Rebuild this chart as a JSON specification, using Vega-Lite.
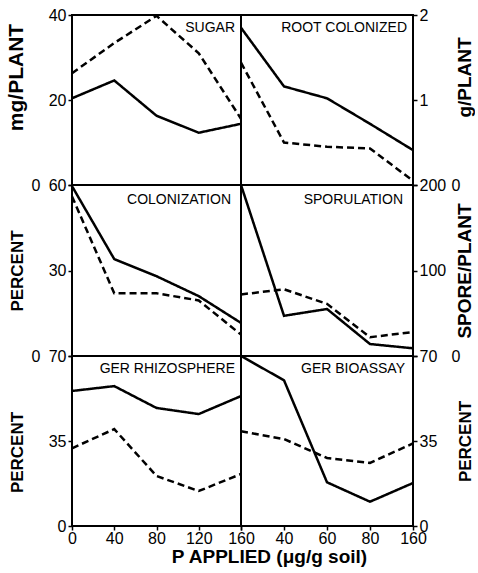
{
  "$schema": "https://vega.github.io/schema/vega-lite/v6.json",
  "background": "white",
  "padding": {"left": 4, "top": 6, "right": 0, "bottom": 4},
  "bounds": "flush",
  "spacing": 0,
  "columns": 2,
  "datasets": {
    "curves": [
      {"panel": "SUGAR", "P": 0, "series": "solid", "value": 20.4},
      {"panel": "SUGAR", "P": 40, "series": "solid", "value": 24.6},
      {"panel": "SUGAR", "P": 80, "series": "solid", "value": 16.3},
      {"panel": "SUGAR", "P": 120, "series": "solid", "value": 12.3},
      {"panel": "SUGAR", "P": 160, "series": "solid", "value": 14.4},
      {"panel": "SUGAR", "P": 0, "series": "dashed", "value": 26.3},
      {"panel": "SUGAR", "P": 40, "series": "dashed", "value": 33.4},
      {"panel": "SUGAR", "P": 80, "series": "dashed", "value": 39.8},
      {"panel": "SUGAR", "P": 120, "series": "dashed", "value": 31},
      {"panel": "SUGAR", "P": 160, "series": "dashed", "value": 15.6},
      {"panel": "ROOT", "P": 0, "series": "solid", "value": 1.85},
      {"panel": "ROOT", "P": 40, "series": "solid", "value": 1.16},
      {"panel": "ROOT", "P": 60, "series": "solid", "value": 1.02},
      {"panel": "ROOT", "P": 80, "series": "solid", "value": 0.72},
      {"panel": "ROOT", "P": 160, "series": "solid", "value": 0.41},
      {"panel": "ROOT", "P": 0, "series": "dashed", "value": 1.44},
      {"panel": "ROOT", "P": 40, "series": "dashed", "value": 0.5},
      {"panel": "ROOT", "P": 60, "series": "dashed", "value": 0.45},
      {"panel": "ROOT", "P": 80, "series": "dashed", "value": 0.43},
      {"panel": "ROOT", "P": 160, "series": "dashed", "value": 0.05},
      {"panel": "COLON", "P": 0, "series": "solid", "value": 59.6},
      {"panel": "COLON", "P": 40, "series": "solid", "value": 34},
      {"panel": "COLON", "P": 80, "series": "solid", "value": 28},
      {"panel": "COLON", "P": 120, "series": "solid", "value": 21},
      {"panel": "COLON", "P": 160, "series": "solid", "value": 11.6},
      {"panel": "COLON", "P": 0, "series": "dashed", "value": 56},
      {"panel": "COLON", "P": 40, "series": "dashed", "value": 22},
      {"panel": "COLON", "P": 80, "series": "dashed", "value": 22},
      {"panel": "COLON", "P": 120, "series": "dashed", "value": 19.5},
      {"panel": "COLON", "P": 160, "series": "dashed", "value": 7.5},
      {"panel": "SPOR", "P": 0, "series": "solid", "value": 200},
      {"panel": "SPOR", "P": 40, "series": "solid", "value": 47},
      {"panel": "SPOR", "P": 60, "series": "solid", "value": 55},
      {"panel": "SPOR", "P": 80, "series": "solid", "value": 14},
      {"panel": "SPOR", "P": 160, "series": "solid", "value": 9},
      {"panel": "SPOR", "P": 0, "series": "dashed", "value": 72},
      {"panel": "SPOR", "P": 40, "series": "dashed", "value": 78},
      {"panel": "SPOR", "P": 60, "series": "dashed", "value": 61},
      {"panel": "SPOR", "P": 80, "series": "dashed", "value": 22},
      {"panel": "SPOR", "P": 160, "series": "dashed", "value": 28},
      {"panel": "GERRH", "P": 0, "series": "solid", "value": 55.6},
      {"panel": "GERRH", "P": 40, "series": "solid", "value": 57.6},
      {"panel": "GERRH", "P": 80, "series": "solid", "value": 48.6},
      {"panel": "GERRH", "P": 120, "series": "solid", "value": 46.1},
      {"panel": "GERRH", "P": 160, "series": "solid", "value": 53.5},
      {"panel": "GERRH", "P": 0, "series": "dashed", "value": 32},
      {"panel": "GERRH", "P": 40, "series": "dashed", "value": 39.9},
      {"panel": "GERRH", "P": 80, "series": "dashed", "value": 20.6},
      {"panel": "GERRH", "P": 120, "series": "dashed", "value": 14.4},
      {"panel": "GERRH", "P": 160, "series": "dashed", "value": 21.4},
      {"panel": "GERBIO", "P": 0, "series": "solid", "value": 70},
      {"panel": "GERBIO", "P": 40, "series": "solid", "value": 60},
      {"panel": "GERBIO", "P": 60, "series": "solid", "value": 18},
      {"panel": "GERBIO", "P": 80, "series": "solid", "value": 10},
      {"panel": "GERBIO", "P": 160, "series": "solid", "value": 17.7},
      {"panel": "GERBIO", "P": 0, "series": "dashed", "value": 39},
      {"panel": "GERBIO", "P": 40, "series": "dashed", "value": 35.8},
      {"panel": "GERBIO", "P": 60, "series": "dashed", "value": 28},
      {"panel": "GERBIO", "P": 80, "series": "dashed", "value": 26},
      {"panel": "GERBIO", "P": 160, "series": "dashed", "value": 34}
    ]
  },
  "concat": [
    {
      "width": 169, "height": 170,
      "layer": [
        {
          "data": {"name": "curves"},
          "transform": [{"filter": "datum.panel === 'SUGAR'"}],
          "mark": {"type": "line", "color": "black", "strokeWidth": 2.5},
          "encoding": {
            "x": {"field": "P", "type": "quantitative", "scale": {"domain": [0, 160], "nice": false}, "axis": null},
            "y": {"field": "value", "type": "quantitative", "scale": {"domain": [0, 40], "nice": false},
              "axis": {"orient": "left", "values": [0, 20, 40], "title": "mg/PLANT", "titleFontSize": 21, "titleX": -46, "titleY": 62,
                "labelPadding": {"condition": {"test": "datum.value === 0", "value": 28}, "value": 2}}},
            "strokeDash": {"field": "series", "type": "nominal", "scale": {"domain": ["solid", "dashed"], "range": [[1, 0], [7, 4]]}, "legend": null}
          }
        },
        {
          "data": {"values": [{"label": "SUGAR"}]},
          "mark": {"type": "text", "align": "right", "baseline": "top", "dx": -6, "dy": 6, "font": "Liberation Sans", "fontSize": 14, "color": "black"},
          "encoding": {"x": {"datum": 160, "type": "quantitative"}, "y": {"datum": 40, "type": "quantitative"}, "text": {"field": "label"}}
        }
      ]
    },
    {
      "width": 172, "height": 170,
      "layer": [
        {
          "data": {"name": "curves"},
          "transform": [{"filter": "datum.panel === 'ROOT'"}],
          "mark": {"type": "line", "color": "black", "strokeWidth": 2.5},
          "encoding": {
            "x": {"field": "P", "type": "ordinal", "scale": {"type": "point", "padding": 0, "domain": [0, 40, 60, 80, 160]}, "axis": null},
            "y": {"field": "value", "type": "quantitative", "scale": {"domain": [0, 2], "nice": false},
              "axis": {"orient": "right", "values": [0, 1, 2], "labelOverlap": false, "labelExpr": "format(datum.value, 'd')", "title": "g/PLANT", "titleAngle": 270, "titleBaseline": "bottom", "titleX": 61, "titleY": 62,
                "labelPadding": {"condition": {"test": "datum.value === 0", "value": 34}, "value": 2}}},
            "strokeDash": {"field": "series", "type": "nominal", "scale": {"domain": ["solid", "dashed"], "range": [[1, 0], [7, 4]]}, "legend": null}
          }
        },
        {
          "data": {"values": [{"label": "ROOT COLONIZED"}]},
          "mark": {"type": "text", "align": "right", "baseline": "top", "dx": -6, "dy": 6, "font": "Liberation Sans", "fontSize": 14, "color": "black"},
          "encoding": {"x": {"datum": 160, "type": "ordinal", "axis": null}, "y": {"datum": 2, "type": "quantitative"}, "text": {"field": "label"}}
        }
      ]
    },
    {
      "width": 169, "height": 171,
      "layer": [
        {
          "data": {"name": "curves"},
          "transform": [{"filter": "datum.panel === 'COLON'"}],
          "mark": {"type": "line", "color": "black", "strokeWidth": 2.5},
          "encoding": {
            "x": {"field": "P", "type": "quantitative", "scale": {"domain": [0, 160], "nice": false}, "axis": null},
            "y": {"field": "value", "type": "quantitative", "scale": {"domain": [0, 60], "nice": false},
              "axis": {"orient": "left", "values": [0, 30, 60], "title": "PERCENT", "titleFontSize": 17, "titleX": -46,
                "labelPadding": {"condition": {"test": "datum.value === 0", "value": 28}, "value": 2}}},
            "strokeDash": {"field": "series", "type": "nominal", "scale": {"domain": ["solid", "dashed"], "range": [[1, 0], [7, 4]]}, "legend": null}
          }
        },
        {
          "data": {"values": [{"label": "COLONIZATION"}]},
          "mark": {"type": "text", "align": "right", "baseline": "top", "dx": -10, "dy": 8, "font": "Liberation Sans", "fontSize": 14, "color": "black"},
          "encoding": {"x": {"datum": 160, "type": "quantitative"}, "y": {"datum": 60, "type": "quantitative"}, "text": {"field": "label"}}
        }
      ]
    },
    {
      "width": 172, "height": 171,
      "layer": [
        {
          "data": {"name": "curves"},
          "transform": [{"filter": "datum.panel === 'SPOR'"}],
          "mark": {"type": "line", "color": "black", "strokeWidth": 2.5},
          "encoding": {
            "x": {"field": "P", "type": "ordinal", "scale": {"type": "point", "padding": 0, "domain": [0, 40, 60, 80, 160]}, "axis": null},
            "y": {"field": "value", "type": "quantitative", "scale": {"domain": [0, 200], "nice": false},
              "axis": {"orient": "right", "values": [0, 100, 200], "title": "SPORE/PLANT", "titleAngle": 270, "titleBaseline": "bottom", "titleX": 61,
                "labelPadding": {"condition": {"test": "datum.value === 0", "value": 34}, "value": 2}}},
            "strokeDash": {"field": "series", "type": "nominal", "scale": {"domain": ["solid", "dashed"], "range": [[1, 0], [7, 4]]}, "legend": null}
          }
        },
        {
          "data": {"values": [{"label": "SPORULATION"}]},
          "mark": {"type": "text", "align": "right", "baseline": "top", "dx": -10, "dy": 8, "font": "Liberation Sans", "fontSize": 14, "color": "black"},
          "encoding": {"x": {"datum": 160, "type": "ordinal", "axis": null}, "y": {"datum": 200, "type": "quantitative"}, "text": {"field": "label"}}
        }
      ]
    },
    {
      "width": 169, "height": 170,
      "layer": [
        {
          "data": {"name": "curves"},
          "transform": [{"filter": "datum.panel === 'GERRH'"}],
          "mark": {"type": "line", "color": "black", "strokeWidth": 2.5},
          "encoding": {
            "x": {"field": "P", "type": "quantitative", "scale": {"domain": [0, 160], "nice": false},
              "axis": {"values": [0, 40, 80, 120, 160], "labelFlush": false, "labelOverlap": false, "labelPadding": 0,
                "title": "P APPLIED (μg/g soil)", "titleX": 197, "titleY": 21, "titleBaseline": "top"}},
            "y": {"field": "value", "type": "quantitative", "scale": {"domain": [0, 70], "nice": false},
              "axis": {"orient": "left", "values": [0, 35, 70], "title": "PERCENT", "titleFontSize": 17, "titleX": -46, "titleY": 96, "labelPadding": 2}},
            "strokeDash": {"field": "series", "type": "nominal", "scale": {"domain": ["solid", "dashed"], "range": [[1, 0], [7, 4]]}, "legend": null}
          }
        },
        {
          "data": {"values": [{"label": "GER RHIZOSPHERE"}]},
          "mark": {"type": "text", "align": "right", "baseline": "top", "dx": -6, "dy": 6, "font": "Liberation Sans", "fontSize": 14, "color": "black"},
          "encoding": {"x": {"datum": 160, "type": "quantitative"}, "y": {"datum": 70, "type": "quantitative"}, "text": {"field": "label"}}
        }
      ]
    },
    {
      "width": 172, "height": 170,
      "layer": [
        {
          "data": {"name": "curves"},
          "transform": [{"filter": "datum.panel === 'GERBIO'"}],
          "mark": {"type": "line", "color": "black", "strokeWidth": 2.5},
          "encoding": {
            "x": {"field": "P", "type": "ordinal", "scale": {"type": "point", "padding": 0, "domain": [0, 40, 60, 80, 160]},
              "axis": {"labelAngle": 0, "labelPadding": 0, "labelExpr": "datum.value === 0 ? '' : datum.label", "title": null}},
            "y": {"field": "value", "type": "quantitative", "scale": {"domain": [0, 70], "nice": false},
              "axis": {"orient": "right", "values": [0, 35, 70], "title": "PERCENT", "titleFontSize": 17, "titleAngle": 270, "titleBaseline": "bottom", "titleX": 61, "labelPadding": 2}},
            "strokeDash": {"field": "series", "type": "nominal", "scale": {"domain": ["solid", "dashed"], "range": [[1, 0], [7, 4]]}, "legend": null}
          }
        },
        {
          "data": {"values": [{"label": "GER BIOASSAY"}]},
          "mark": {"type": "text", "align": "right", "baseline": "top", "dx": -8, "dy": 6, "font": "Liberation Sans", "fontSize": 14, "color": "black"},
          "encoding": {"x": {"datum": 160, "type": "ordinal"}, "y": {"datum": 70, "type": "quantitative"}, "text": {"field": "label"}}
        }
      ]
    }
  ],
  "config": {
    "view": {"stroke": "black", "strokeWidth": 2},
    "axis": {
      "domain": false, "grid": false, "ticks": true, "tickSize": 4, "tickWidth": 1.5, "tickColor": "black",
      "labelFont": "Liberation Sans", "labelFontSize": 16, "labelColor": "black",
      "titleFont": "Liberation Sans", "titleFontSize": 19, "titleFontWeight": "bold", "titleColor": "black"
    }
  }
}
